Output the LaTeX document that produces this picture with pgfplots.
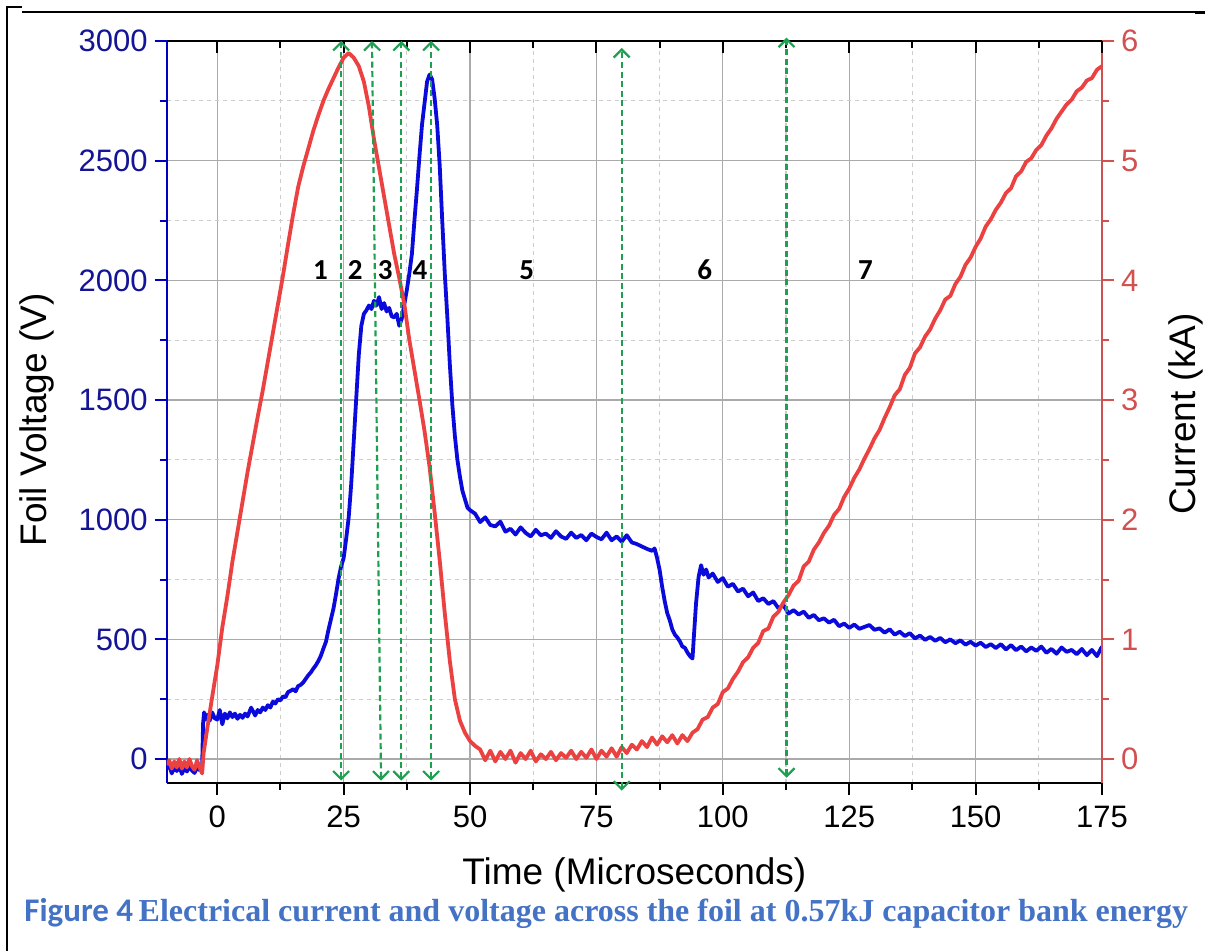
\documentclass[border=0pt]{standalone}
\usepackage{pgfplots}
\pgfplotsset{compat=1.18}
\usepackage{fontspec}
\usepackage{graphicx}
\usetikzlibrary{arrows.meta}
\setmainfont{Liberation Sans}
\newfontfamily\carlito{Carlito}
\newfontfamily\capserif{Liberation Serif}
\definecolor{vblue}{RGB}{10,10,220}
\definecolor{ired}{RGB}{235,65,65}
\definecolor{axblue}{RGB}{0,0,190}
\definecolor{lblblue}{RGB}{20,20,150}
\definecolor{axred}{RGB}{210,80,80}
\definecolor{garrow}{RGB}{30,160,80}
\definecolor{capblue}{RGB}{68,114,196}
\definecolor{gridmaj}{RGB}{170,170,170}
\definecolor{gridmin}{RGB}{205,205,205}
\pgfplotsset{
  common/.style={
    scale only axis, width=467.65pt, height=371pt,
    xmin=-10, xmax=175,
    /pgf/number format/assume math mode=true,
    /pgf/number format/1000 sep={},
    tick label style={font=\fontsize{15.5}{18}\selectfont},
    label style={font=\fontsize{18.5}{22}\selectfont},
    major tick length=6pt, minor tick length=3.5pt,
    axis line style={-, line width=1pt},
    every tick/.style={line width=1pt},
    xtick={0,25,...,175}, minor x tick num=1,
  },
}
\begin{document}
\begin{tikzpicture}
\useasboundingbox (-83.35pt,-84pt) rectangle (519.15pt,391.5pt);
% frame lines
\draw[line width=1pt] (-79.85pt,-84pt) -- (-79.85pt,388pt) -- (-72.35pt,388pt);
\draw[line width=0.75pt] (-72.35pt,385.5pt) -- (514.15pt,385.5pt);
\draw[line width=1.5pt] (514.15pt,385.3pt) -- (519.15pt,385.3pt);

% Voltage axis
\begin{axis}[common,
  ymin=-100, ymax=3000,
  axis x line*=bottom, axis y line*=left,
  tick align=outside,
  ytick={0,500,...,3000}, minor y tick num=1,
  grid=both,
  major grid style={gridmaj, line width=0.6pt},
  minor grid style={gridmin, line width=0.6pt, dash pattern=on 2pt off 2pt},
  y axis line style={axblue},
  ytick style={axblue},
  xtick style={black},
  yticklabel style={text=lblblue},
  xticklabel style={yshift=-2pt},
  xlabel={Time (Microseconds)},
  ylabel={Foil Voltage (V)},
  xlabel style={at={([yshift=-46pt]axis description cs:0.5,0)}, anchor=center},
  ylabel style={at={([xshift=-64.85pt,yshift=-4pt]axis description cs:0,0.5)}, anchor=center},
]
\addplot[vblue, line width=1.9pt, line join=round] coordinates {
(-10,-40) (-9.5,-25) (-9,-60) (-8.5,-35) (-8,-50) (-7.5,-28) (-7,-62) (-6.5,-38) (-6,-52) (-5.5,-30) (-5,-48) (-4.5,-58) (-4,-33) (-3.5,-47) (-3,-40)
(-2.8,150) (-2.6,195) (-2.3,165) (-2,185) (-1.5,160) (-1,195) (-0.5,170) (0,165) (0.5,205) (1,145) (1.5,190) (2,170) (2.5,195) (3,175) (3.5,190) (4,168) (4.5,185) (5,172) (5.5,190) (6,178) (6.7,215) (7.5,182) (8,205) (8.5,195) (9,215) (9.5,205) (10,225) (10.5,215) (11,240) (11.5,232) (12,250) (12.5,245) (13,262) (13.5,258) (14,280) (14.5,285) (15,292) (15.5,283) (16,305) (16.5,310) (17,320) (17.5,335) (18,350) (18.5,362) (19,378) (19.5,392) (20,410) (20.5,432) (21,462) (21.5,490) (22,540) (22.5,585) (23,630) (23.5,690) (24,755) (24.5,805) (25,840)
(25.5,920) (26,1010) (26.5,1150) (27,1330) (27.5,1510) (28,1690) (28.5,1810) (29,1860) (29.5,1875) (30,1895) (30.5,1880) (31,1915) (31.5,1895) (32,1930) (32.5,1880) (33,1905) (33.5,1870) (34,1885) (34.5,1850) (35,1845) (35.5,1860) (36,1810) (36.5,1840) (37,1900) (37.5,1960) (38,2030) (38.5,2110) (39,2250) (39.5,2380) (40,2520) (40.5,2650) (41,2740) (41.5,2830) (42,2860) (42.5,2840) (43,2760) (43.5,2650) (44,2480) (44.5,2250) (45,2030) (45.5,1850) (46,1650) (46.5,1480) (47,1350) (47.5,1250) (48,1180) (48.5,1120) (49,1085) (49.5,1050) (50,1040)
(51,1025) (52,990) (53,1010) (54,978) (55,972) (56,992) (57,950) (58,962) (59,938) (60,968) (61,945) (62,930) (63,958) (64,935) (65,942) (66,924) (67,952) (68,930) (69,920) (70,946) (71,924) (72,936) (73,914) (74,942) (75,928) (76,918) (77,946) (78,914) (79,930) (80,908) (81,935) (82,905) (83,898) (84,888) (85,878) (86,870) (86.5,880) (87,840) (87.5,790) (88,720) (88.5,660) (89,610) (89.5,580) (90,542) (90.5,520) (91,508) (91.5,492) (92,470) (92.5,465) (93,445) (93.5,430) (94,420)
(94.3,520) (94.7,650) (95.2,760) (95.7,810) (96.2,770) (96.7,792) (97.2,758) (98,775) (99,740) (100,756) (101,720) (102,732) (103,700) (104,712) (105,680) (106,696) (107,660) (108,672) (109,648) (110,660) (111,630) (112,642) (113,608) (114,622) (115,604) (116,616) (117,590) (118,602) (119,580) (120,588) (121,570) (122,582) (123,555) (124,566) (125,548) (126,562) (127,544) (128,552) (129,560) (130,540) (131,546) (132,528) (133,542) (134,520) (135,532) (136,514) (137,526) (138,504) (139,516) (140,498) (141,510) (142,494) (143,506) (144,488) (145,500) (146,484) (147,496) (148,478) (149,490) (150,474) (151,486) (152,468) (153,480) (154,464) (155,480) (156,458) (157,476) (158,455) (159,470) (160,450) (161,466) (162,452) (163,470) (164,444) (165,460) (166,440) (167,466) (168,448) (169,456) (170,438) (171,460) (172,434) (173,456) (174,430) (175,470)
};
\end{axis}

% Current axis
\begin{axis}[common,
  ymin=-0.2, ymax=6,
  axis x line=none, axis y line*=right,
  tick align=outside,
  ytick={0,1,...,6}, minor y tick num=1,
  y axis line style={axred},
  ytick style={axred},
  yticklabel style={text=axred},
  ylabel={Current (kA)},
  ylabel style={at={([xshift=42pt,yshift=-1pt]axis description cs:1,0.5)}, anchor=center, rotate=0},
]
\addplot[ired, line width=1.9pt, line join=round] coordinates {
(-10,-0.05) (-9.5,-0.01) (-9,-0.08) (-8.5,-0.02) (-8,-0.07) (-7.5,0.0) (-7,-0.08) (-6.5,-0.02) (-6,-0.07) (-5.5,0.0) (-5,-0.06) (-4.5,-0.09) (-4,-0.01) (-3.5,-0.07) (-3,-0.12)
(-2.7,0.05) (-2,0.25) (-1,0.52) (0,0.78) (1,1.1) (2,1.36) (3,1.65) (4,1.9) (5,2.15) (6,2.4) (7,2.63) (8,2.86) (9,3.08) (10,3.32) (11,3.56) (12,3.8) (13,4.04) (14,4.3) (15,4.55) (16,4.78) (17,4.95) (18,5.1) (19,5.25) (20,5.38) (21,5.5) (22,5.6) (23,5.69) (24,5.78) (25,5.86) (26,5.9) (27,5.86) (28,5.79) (29,5.66) (30,5.45) (31,5.18) (32,4.94) (33,4.7) (34,4.46) (35,4.22) (36,4.02) (37,3.8) (38,3.5) (39,3.25) (40,3.0) (41,2.74) (42,2.44) (43,2.06) (44,1.66) (45,1.22) (46,0.82) (47,0.5) (48,0.32) (49,0.22) (50,0.15) (51,0.11)
(52,0.08) (53,-0.01) (54,0.07) (55,-0.02) (56,0.06) (57,0.0) (58,0.07) (59,-0.03) (60,0.05) (61,0.0) (62,0.07) (63,-0.02) (64,0.04) (65,0.0) (66,0.06) (67,-0.01) (68,0.05) (69,0.01) (70,0.07) (71,0.0) (72,0.06) (73,0.01) (74,0.08) (75,0.0) (76,0.07) (77,0.02) (78,0.09) (79,0.02) (80,0.1) (81,0.05) (82,0.12) (83,0.08) (84,0.15) (85,0.1) (86,0.18) (87,0.12) (88,0.19) (89,0.14) (90,0.2) (91,0.13) (92,0.2) (93,0.15) (94,0.22)
(95,0.25) (96,0.33) (97,0.35) (98,0.43) (99,0.46) (100,0.56) (101,0.59) (102,0.67) (103,0.73) (104,0.81) (105,0.85) (106,0.93) (107,0.97) (108,1.07) (109,1.09) (110,1.19) (111,1.23) (112,1.31) (113,1.37) (114,1.45) (115,1.49) (116,1.61) (117,1.65) (118,1.75) (119,1.81) (120,1.89) (121,1.95) (122,2.04) (123,2.09) (124,2.19) (125,2.26) (126,2.35) (127,2.42) (128,2.51) (129,2.59) (130,2.68) (131,2.75) (132,2.85) (133,2.94) (134,3.04) (135,3.09) (136,3.21) (137,3.27) (138,3.39) (139,3.44) (140,3.53) (141,3.59) (142,3.68) (143,3.75) (144,3.84) (145,3.87) (146,3.97) (147,4.03) (148,4.13) (149,4.19) (150,4.28) (151,4.35) (152,4.45) (153,4.51) (154,4.59) (155,4.65) (156,4.73) (157,4.77) (158,4.87) (159,4.91) (160,4.99) (161,5.02) (162,5.09) (163,5.13) (164,5.21) (165,5.27) (166,5.35) (167,5.41) (168,5.47) (169,5.51) (170,5.58) (171,5.61) (172,5.67) (173,5.69) (174,5.76) (175,5.79)
};
\end{axis}

% Top ticks, arrows, numbers
\begin{axis}[common,
  ymin=-100, ymax=3000,
  axis x line*=top, axis y line=none,
  tick align=inside,
  xticklabels={},
  xtick style={black},
  clip=false,
]
\pgfplotsset{garr/.style={garrow, line width=1.1pt, dash pattern=on 3pt off 1.8pt,
  {Straight Barb[length=4pt,width=8pt,line width=1.1pt]}-{Straight Barb[length=4pt,width=8pt,line width=1.1pt]}}}
\addplot[garr] coordinates {(24.5,-90) (24.5,3000)};
\addplot[garr] coordinates {(32.4,-90) (30.6,3000)};
\addplot[garr] coordinates {(36.4,-90) (36.4,3000)};
\addplot[garr] coordinates {(42.3,-90) (42.3,3000)};
\addplot[garr] coordinates {(80.0,-132) (80.0,2971)};
\addplot[garr] coordinates {(112.6,-78) (112.6,3014)};
\begin{scope}[every node/.style={font=\fontsize{14.5}{17}\selectfont\carlito\bfseries}]
\node at (axis cs:20.4,2043) {1};
\node at (axis cs:27.3,2043) {2};
\node at (axis cs:33.2,2043) {3};
\node at (axis cs:40.1,2043) {4};
\node at (axis cs:61.2,2043) {5};
\node at (axis cs:96.4,2043) {6};
\node at (axis cs:128.2,2043) {7};
\end{scope}
\end{axis}

% Caption
\node[anchor=base west, inner sep=0, text=capblue] at (-71.35pt,-69.35pt)
  {{\fontsize{16.5}{19}\selectfont\carlito\bfseries Figure 4} {\fontsize{16}{19}\selectfont\capserif\bfseries Electrical current and voltage across the foil at 0.57kJ capacitor bank energy}};
\end{tikzpicture}
\end{document}
